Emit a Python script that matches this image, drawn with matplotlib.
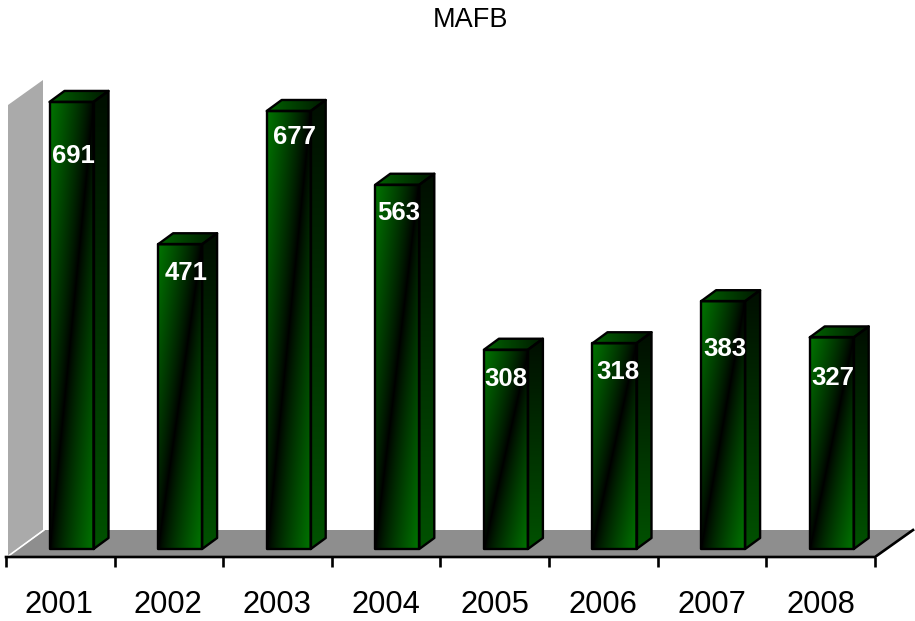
import numpy as np
import matplotlib
matplotlib.use("Agg")
import matplotlib.pyplot as plt
from matplotlib.colors import LinearSegmentedColormap
from matplotlib.patches import Polygon

plt.rcParams["font.family"] = ["Liberation Sans", "DejaVu Sans"]

years = ["2001", "2002", "2003", "2004", "2005", "2006", "2007", "2008"]
values = [691, 471, 677, 563, 308, 318, 383, 327]

# how far each label sits below the bar top, and sideways off the bar centre (pixels)
label_drop = [54, 29, 26, 28, 29, 29, 48, 41]
label_shift = [2, 6, 6, 1, 0, 3, 2, 1]

W, H = 915, 621
PX_X = 108.6   # pixels per category
PX_Y = 0.647   # pixels per unit value
BASE = 549     # pixel row of value 0 (front of the bars)
AXIS = 557     # pixel row of the axis line
LEFT = 6
TOP = 60

fig = plt.figure(figsize=(W / 100, H / 100), dpi=100, facecolor="white")
ax = fig.add_axes([LEFT / W, 1 - AXIS / H, PX_X * 8 / W, (AXIS - TOP) / H])
ax.set_xlim(0, 8)
ax.set_ylim((BASE - AXIS) / PX_Y, (BASE - TOP) / PX_Y)
ax.axis("off")


def dx(px):
    return px / PX_X


def dy(px):
    return px / PX_Y


def from_px(x, y):
    # pixel position to data position, for the box around the plot
    return (x - LEFT) / PX_X, (BASE - y) / PX_Y


def add_poly(pts, **kw):
    p = Polygon([from_px(*q) for q in pts], closed=True, clip_on=False, **kw)
    ax.add_patch(p)
    return p


greens = LinearSegmentedColormap.from_list("g", ["#000000", "#007400"])

# wall and floor
add_poly([(8, 556), (8, 105), (43, 80), (43, 530)], fc="#aaaaaa", ec="none", zorder=1)
add_poly([(7, 557), (45, 530), (915, 530), (875, 557)], fc="#8e8e8e", ec="none", zorder=1)
ax.plot(*zip(from_px(44, 80), from_px(44, 530), from_px(7, 557)),
        color="white", lw=1.2, clip_on=False, zorder=2)

# axis line, ticks and year labels
ax.plot(*zip(from_px(6, AXIS), from_px(875, AXIS), from_px(913, 530)),
        color="black", lw=1.9, clip_on=False, zorder=3)
for i in range(9):
    ax.plot([i, i], [dy(BASE - AXIS), dy(BASE - AXIS - 10)], color="black",
            lw=1.9, clip_on=False, solid_capstyle="butt", zorder=3)
for i, year in enumerate(years):
    ax.text(i * 1.002 + 0.49, dy(BASE - 605), year, ha="center", va="center",
            fontsize=22.2, color="black")

# bars
bar_w = dx(44)
bar_off = dx(43.5)
depth_x = dx(15)
depth_y = dy(11)

u, v = np.meshgrid(np.linspace(0, 1, 80), np.linspace(0, 1, 200))
front_img = np.abs(u + v - 1) ** 0.8
side_img = (0.12 + 0.58 * v)
top_img = np.tile(np.linspace(0.85, 0.2, 80), (40, 1))

for i, val in enumerate(values):
    x0 = i + bar_off
    x1 = x0 + bar_w

    ax.imshow(front_img, cmap=greens, vmin=0, vmax=1, aspect="auto",
              extent=(x0, x1, 0, val), origin="upper", zorder=4)

    side = Polygon([(x1, 0), (x1 + depth_x, depth_y), (x1 + depth_x, val + depth_y), (x1, val)],
                   closed=True, fc="none", ec="black", lw=1.7, zorder=6, joinstyle="round")
    ax.add_patch(side)
    img = ax.imshow(side_img, cmap=greens, vmin=0, vmax=1, aspect="auto",
                    extent=(x1, x1 + depth_x, 0, val + depth_y), origin="upper", zorder=5)
    img.set_clip_path(side)

    top = Polygon([(x0, val), (x1, val), (x1 + depth_x, val + depth_y), (x0 + depth_x, val + depth_y)],
                  closed=True, fc="none", ec="black", lw=1.7, zorder=6, joinstyle="round")
    ax.add_patch(top)
    img = ax.imshow(top_img, cmap=greens, vmin=0, vmax=1, aspect="auto",
                    extent=(x0, x1 + depth_x, val, val + depth_y), origin="upper", zorder=5)
    img.set_clip_path(top)

    ax.add_patch(Polygon([(x0, 0), (x1, 0), (x1, val), (x0, val)], closed=True,
                         fc="none", ec="black", lw=1.7, zorder=6, joinstyle="round"))

    ax.text((x0 + x1) / 2 + dx(label_shift[i]), val - dy(label_drop[i]), str(val),
            ha="center", va="center", fontsize=18.5, fontweight="bold",
            color="white", zorder=7)

ax.set_xlim(0, 8)
ax.set_ylim((BASE - AXIS) / PX_Y, (BASE - TOP) / PX_Y)

fig.text(470.5 / W, 1 - 20 / H, "MAFB", ha="center", va="center", fontsize=19.5, color="black")

fig.savefig("out.png", dpi=100, facecolor="white")
